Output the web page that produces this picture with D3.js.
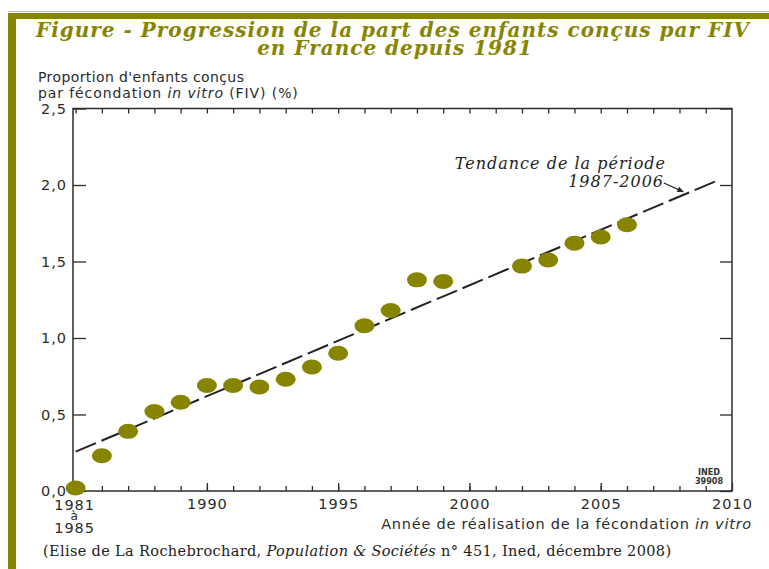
<!DOCTYPE html>
<html>
<head>
<meta charset="utf-8">
<script src="https://cdn.jsdelivr.net/npm/d3@7"></script>
<style>
  html, body { margin: 0; padding: 0; background: #fff; }
  svg { display: block; }
</style>
</head>
<body>
<svg id="chart" width="769" height="569"></svg>
<script>
// Share of children conceived by IVF in France (%), by year of the IVF
const yearLabels = ["1981 à 1985", "1986", "1987", "1988", "1989", "1990", "1991", "1992", "1993",
  "1994", "1995", "1996", "1997", "1998", "1999", "2002", "2003", "2004", "2005", "2006"];
const yearPositions = [1985, 1986, 1987, 1988, 1989, 1990, 1991, 1992, 1993,
  1994, 1995, 1996, 1997, 1998, 1999, 2002, 2003, 2004, 2005, 2006];
const ivfShare = [0.02, 0.23, 0.39, 0.52, 0.58, 0.69, 0.69, 0.68, 0.73,
  0.81, 0.90, 1.08, 1.18, 1.38, 1.37, 1.47, 1.51, 1.62, 1.66, 1.74];

// Linear trend 1987-2006, drawn across the period shown
const trendYears = [1985, 2009.55];
const trendValues = [0.257, 2.037];

const yTicks = [0, 0.5, 1.0, 1.5, 2.0, 2.5];
const xMajorTicks = [1990, 1995, 2000, 2005, 2010];
const xMinorTicks = d3.range(1985, 2010);

const olive = "#878500";
const ink = "#2b2b2b";
const sans = "'DejaVu Sans', Verdana, sans-serif";
const serif = "'DejaVu Serif', 'Liberation Serif', serif";

const svg = d3.select("#chart");

// Page frame: olive rule on top and down the left side
svg.append("rect").attr("x", 8).attr("y", 11).attr("width", 761).attr("height", 1).attr("fill", "#bbb");
svg.append("rect").attr("x", 8).attr("y", 13).attr("width", 761).attr("height", 6).attr("fill", olive);
svg.append("rect").attr("x", 8).attr("y", 13).attr("width", 8).attr("height", 556).attr("fill", olive);

// Title
const title = svg.append("text")
  .attr("text-anchor", "middle")
  .attr("fill", olive)
  .style("font-family", serif)
  .style("font-style", "italic")
  .style("font-weight", "bold")
  .style("font-size", "20px")
  .style("letter-spacing", "1px");
title.append("tspan").attr("x", 393).attr("y", 37).text("Figure - Progression de la part des enfants conçus par FIV");
title.append("tspan").attr("x", 395).attr("y", 55).text("en France depuis 1981");

// Plot area
const plotLeft = 73, plotRight = 732, plotTop = 108.5, plotBottom = 491;
const x = d3.scaleLinear().domain([1984.9, 2010]).range([plotLeft, plotRight]);
const y = d3.scaleLinear().domain([0, 2.5]).range([plotBottom, plotTop]);

// Y axis title
const yTitle = svg.append("text")
  .attr("fill", ink)
  .style("font-family", sans)
  .style("font-size", "14px")
  .style("letter-spacing", "0.4px");
yTitle.append("tspan").attr("x", 38).attr("y", 82).text("Proportion d'enfants conçus");
const yl2 = yTitle.append("tspan").attr("x", 38).attr("y", 98).style("letter-spacing", "0.9px");
yl2.append("tspan").text("par fécondation ");
yl2.append("tspan").style("font-style", "italic").text("in vitro");
yl2.append("tspan").text(" (FIV) (%)");

const fmt = d => d3.format(".1f")(d).replace(".", ",");

function styleAxis(g) {
  g.select(".domain").remove();
  g.selectAll("line").attr("stroke", ink).attr("stroke-width", 1.3);
  g.selectAll("text").attr("fill", ink).style("font-family", sans).style("font-size", "14.5px").style("letter-spacing", "1px");
}

svg.append("g").attr("transform", `translate(${plotLeft},0)`)
  .call(d3.axisLeft(y).tickValues(yTicks).tickFormat(fmt).tickSizeInner(-13).tickSizeOuter(0).tickPadding(6))
  .call(styleAxis);

svg.append("g").attr("transform", `translate(${plotRight},0)`)
  .call(d3.axisRight(y).tickValues(yTicks).tickFormat("").tickSizeInner(-12).tickSizeOuter(0))
  .call(styleAxis);

svg.append("g").attr("transform", `translate(0,${plotBottom})`)
  .call(d3.axisBottom(x).tickValues(xMinorTicks).tickFormat("").tickSizeInner(-5).tickSizeOuter(0))
  .call(styleAxis);

svg.append("g").attr("transform", `translate(0,${plotBottom})`)
  .call(d3.axisBottom(x).tickValues(xMajorTicks).tickFormat(d3.format("d")).tickSizeInner(-8).tickSizeOuter(0).tickPadding(8))
  .call(styleAxis);

svg.append("g").attr("transform", `translate(0,${plotTop})`)
  .call(d3.axisTop(x).tickValues(xMinorTicks).tickFormat("").tickSizeInner(-5).tickSizeOuter(0))
  .call(styleAxis);

// Frame
svg.append("rect")
  .attr("x", plotLeft).attr("y", plotTop)
  .attr("width", plotRight - plotLeft).attr("height", plotBottom - plotTop)
  .attr("fill", "none").attr("stroke", ink).attr("stroke-width", 1.5);

// First category label stacked under the axis
const firstLab = svg.append("text")
  .attr("text-anchor", "middle")
  .attr("fill", ink)
  .style("font-family", sans)
  .style("font-size", "14.5px")
  .style("letter-spacing", "1px");
const parts = yearLabels[0].split(" ");
const stackY = [510, 520, 533];
parts.forEach((part, i) => {
  firstLab.append("tspan")
    .attr("x", x(yearPositions[0]) - 1)
    .attr("y", stackY[i])
    .style("font-size", i === 1 ? "12px" : null)
    .text(part);
});

// X axis title
const xTitle = svg.append("text")
  .attr("text-anchor", "end")
  .attr("x", 752).attr("y", 529)
  .attr("fill", ink)
  .style("font-family", sans)
  .style("font-size", "14.5px")
  .style("letter-spacing", "0.75px");
xTitle.append("tspan").text("Année de réalisation de la fécondation ");
xTitle.append("tspan").style("font-style", "italic").text("in vitro");

// Trend line
const trend = d3.line().x(d => x(d[0])).y(d => y(d[1]));
svg.append("path")
  .datum(trendYears.map((t, i) => [t, trendValues[i]]))
  .attr("d", trend)
  .attr("fill", "none")
  .attr("stroke", "#222")
  .attr("stroke-width", 2)
  .attr("stroke-dasharray", "22,6");

// Data points
svg.append("g").selectAll("ellipse")
  .data(ivfShare)
  .join("ellipse")
  .attr("cx", (d, i) => x(yearPositions[i]))
  .attr("cy", d => y(d))
  .attr("rx", 10)
  .attr("ry", 7.5)
  .attr("fill", olive);

// Trend annotation with arrow
svg.append("defs").append("marker")
  .attr("id", "head")
  .attr("viewBox", "0 0 10 10")
  .attr("refX", 10).attr("refY", 5)
  .attr("markerWidth", 10).attr("markerHeight", 6)
  .attr("markerUnits", "userSpaceOnUse")
  .attr("orient", "auto")
  .append("path").attr("d", "M0,0L10,5L0,10Z").attr("fill", "#222");

const ann = svg.append("text")
  .attr("text-anchor", "end")
  .attr("fill", "#222")
  .style("font-family", serif)
  .style("font-style", "italic")
  .style("font-size", "16px")
  .style("letter-spacing", "1px");
ann.append("tspan").attr("x", 666).attr("y", 169).text("Tendance de la période");
ann.append("tspan").attr("x", 664).attr("y", 187).text("1987-2006");

const tipYear = 2008.15;
const tipVal = trendValues[0] + (trendValues[1] - trendValues[0]) * (tipYear - trendYears[0]) / (trendYears[1] - trendYears[0]);
svg.append("line")
  .attr("x1", 664).attr("y1", 183)
  .attr("x2", x(tipYear)).attr("y2", y(tipVal) - 3)
  .attr("stroke", "#222").attr("stroke-width", 1.2)
  .attr("marker-end", "url(#head)");

// Source stamp
const stamp = svg.append("text")
  .attr("text-anchor", "middle")
  .attr("fill", "#333")
  .style("font-family", "'DejaVu Sans Condensed', 'DejaVu Sans', sans-serif")
  .style("font-weight", "bold")
  .style("font-size", "9px");
stamp.append("tspan").attr("x", 709).attr("y", 475).text("INED");
stamp.append("tspan").attr("x", 709).attr("y", 484).text("39908");

// Citation
const cite = svg.append("text")
  .attr("x", 43).attr("y", 556)
  .attr("fill", "#222")
  .style("font-family", serif)
  .style("font-size", "14.5px")
  .style("letter-spacing", "0.35px");
cite.append("tspan").text("(Elise de La Rochebrochard, ");
cite.append("tspan").style("font-style", "italic").text("Population & Sociétés");
cite.append("tspan").text(" n° 451, Ined, décembre 2008)");
</script>
</body>
</html>
